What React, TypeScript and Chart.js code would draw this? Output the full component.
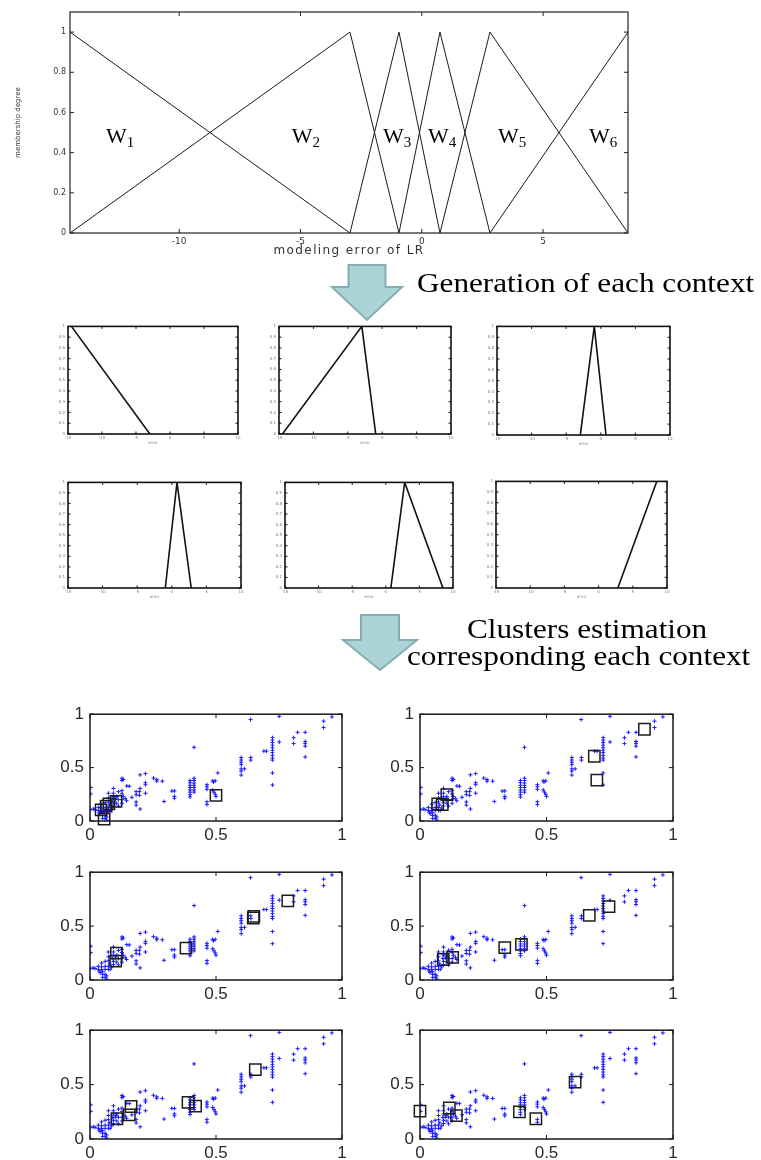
import React, { useEffect, useRef } from "react";
import { Chart, registerables } from "chart.js";
Chart.register(...registerables);

// ---------------- data ----------------
// peaks of the triangular membership functions W1..W6 (modeling error of LR)
const mfPeaks = [-14.5, -2.96, -0.94, 0.75, 2.81, 8.5];
const mfSubs = ["1", "2", "3", "4", "5", "6"];
const mfLabelX = [-13.02, -5.36, -1.6, 0.26, 3.14, 6.89];
const mfLabelY = [0.45, 0.45, 0.45, 0.45, 0.45, 0.45];
const topXTicks = [-10, -5, 0, 5];
const topYTicks = [0, 0.2, 0.4, 0.6, 0.8, 1];
const smallXTicks = [-15, -10, -5, 0, 5, 10];
const smallYTicks = [0, 0.1, 0.2, 0.3, 0.4, 0.5, 0.6, 0.7, 0.8, 0.9, 1];
const scatterTicks = [0, 0.5, 1];

const scatterPoints: [number, number][] = [
  [1.0, 1.0], [0.96, 0.975], [0.927, 0.935], [0.927, 0.875], [0.751, 0.98], [0.637, 0.95],
  [0.854, 0.83], [0.824, 0.83], [0.808, 0.78], [0.808, 0.725], [0.854, 0.745], [0.854, 0.725],
  [0.854, 0.7], [0.854, 0.6], [0.751, 0.74],
  [0.724, 0.78], [0.724, 0.757], [0.724, 0.734], [0.724, 0.71], [0.724, 0.686], [0.724, 0.663],
  [0.724, 0.64], [0.724, 0.615], [0.724, 0.59], [0.724, 0.57], [0.724, 0.45], [0.724, 0.337],
  [0.7, 0.654], [0.69, 0.654], [0.638, 0.595], [0.638, 0.57],
  [0.6, 0.595], [0.6, 0.571], [0.6, 0.55], [0.6, 0.527], [0.6, 0.488], [0.6, 0.467], [0.6, 0.43],
  [0.613, 0.488], [0.507, 0.45],
  [0.487, 0.376], [0.497, 0.376], [0.49, 0.365], [0.487, 0.29], [0.492, 0.27], [0.497, 0.25], [0.5, 0.23],
  [0.464, 0.34], [0.464, 0.32], [0.464, 0.296], [0.464, 0.18], [0.464, 0.154],
  [0.413, 0.69],
  [0.397, 0.379], [0.397, 0.358], [0.397, 0.334], [0.397, 0.314], [0.397, 0.29], [0.397, 0.27], [0.397, 0.246], [0.397, 0.225],
  [0.413, 0.4], [0.413, 0.379], [0.413, 0.355], [0.413, 0.334], [0.413, 0.314], [0.413, 0.29], [0.413, 0.27],
  [0.335, 0.281], [0.335, 0.231], [0.335, 0.213], [0.325, 0.281],
  [0.294, 0.183],
  [0.252, 0.402], [0.265, 0.388], [0.265, 0.373], [0.287, 0.373],
  [0.22, 0.444], [0.22, 0.358], [0.22, 0.34], [0.22, 0.26],
  [0.199, 0.432], [0.199, 0.305], [0.196, 0.275], [0.196, 0.24], [0.199, 0.112],
  [0.183, 0.275], [0.183, 0.246], [0.183, 0.178], [0.183, 0.148],
  [0.166, 0.222], [0.156, 0.325], [0.146, 0.328],
  [0.127, 0.4], [0.127, 0.38], [0.132, 0.39],
  [0.127, 0.284], [0.127, 0.254], [0.132, 0.23], [0.127, 0.2], [0.127, 0.166], [0.14, 0.21], [0.145, 0.19],
  [0.113, 0.275], [0.106, 0.23], [0.113, 0.2], [0.106, 0.166], [0.113, 0.14],
  [0.093, 0.305], [0.093, 0.26], [0.093, 0.23], [0.093, 0.172], [0.093, 0.142], [0.09, 0.2],
  [0.073, 0.26], [0.073, 0.216], [0.073, 0.178], [0.073, 0.127], [0.073, 0.098], [0.078, 0.15],
  [0.06, 0.172], [0.06, 0.127], [0.06, 0.098], [0.06, 0.053], [0.06, 0.024],
  [0.066, 0.038], [0.066, 0.009], [0.05, 0.024], [0.05, 0.053], [0.05, 0.077], [0.04, 0.068],
  [0.046, 0.157], [0.046, 0.121], [0.046, 0.098],
  [0.033, 0.127], [0.033, 0.098], [0.037, 0.083],
  [0.02, 0.107], [0.013, 0.112], [0.003, 0.314], [0.003, 0.254], [0.003, 0.107],
  [0.08, 0.098], [0.086, 0.121], [0.1, 0.2], [0.104, 0.215],
];

const centers1: [number, number][] = [[0.5, 0.24], [0.044, 0.104], [0.064, 0.139], [0.103, 0.183], [0.056, 0.018], [0.075, 0.16]];
const centers2: [number, number][] = [[0.887, 0.859], [0.689, 0.606], [0.699, 0.382], [0.106, 0.247], [0.088, 0.153], [0.07, 0.159]];
const centers3: [number, number][] = [[0.785, 0.734], [0.65, 0.59], [0.648, 0.575], [0.381, 0.295], [0.105, 0.249], [0.102, 0.175]];
const centers4: [number, number][] = [[0.747, 0.68], [0.669, 0.6], [0.335, 0.3], [0.401, 0.33], [0.092, 0.19], [0.129, 0.21]];
const centers5: [number, number][] = [[0.656, 0.637], [0.389, 0.337], [0.419, 0.302], [0.163, 0.299], [0.156, 0.221], [0.107, 0.186]];
const centers6: [number, number][] = [[0.0, 0.256], [0.116, 0.285], [0.144, 0.215], [0.393, 0.25], [0.458, 0.186], [0.613, 0.523]];

// ---------------- helpers ----------------
type Box = { l: number; t: number; r: number; b: number };
type Pad = { L: number; T: number; R: number; B: number };

function mfPoints(i: number) {
  const pts: { x: number; y: number }[] = [];
  if (i > 0) pts.push({ x: mfPeaks[i - 1], y: 0 });
  pts.push({ x: mfPeaks[i], y: 1 });
  if (i < mfPeaks.length - 1) pts.push({ x: mfPeaks[i + 1], y: 0 });
  return pts;
}

const boxPlugin = {
  id: "mbox",
  afterDatasetsDraw(chart: any, _a: any, opts: any) {
    const { ctx, chartArea: a, scales } = chart;
    const xs = scales.x, ys = scales.y;
    const len = opts.tickLen;
    ctx.save();
    ctx.strokeStyle = opts.color;
    ctx.lineWidth = opts.tickWidth;
    ctx.beginPath();
    xs.ticks.forEach((t: any) => {
      const p = xs.getPixelForValue(t.value);
      ctx.moveTo(p, a.bottom); ctx.lineTo(p, a.bottom - len);
      ctx.moveTo(p, a.top); ctx.lineTo(p, a.top + len);
    });
    ys.ticks.forEach((t: any) => {
      const p = ys.getPixelForValue(t.value);
      ctx.moveTo(a.left, p); ctx.lineTo(a.left + len, p);
      ctx.moveTo(a.right, p); ctx.lineTo(a.right - len, p);
    });
    ctx.stroke();
    ctx.lineWidth = opts.boxWidth;
    ctx.strokeRect(a.left, a.top, a.right - a.left, a.bottom - a.top);
    ctx.restore();
  },
};

const wLabelPlugin = {
  id: "wlabels",
  afterDatasetsDraw(chart: any) {
    const { ctx, scales } = chart;
    const x = scales.x, y = scales.y;
    ctx.save();
    ctx.fillStyle = "#000";
    ctx.textAlign = "left";
    ctx.textBaseline = "alphabetic";
    mfSubs.forEach((s, i) => {
      const px = x.getPixelForValue(mfLabelX[i]);
      const py = y.getPixelForValue(mfLabelY[i]);
      ctx.font = '22px "Liberation Serif"';
      ctx.fillText("W", px, py);
      const w = ctx.measureText("W").width;
      ctx.font = '15px "Liberation Serif"';
      ctx.fillText(s, px + w, py + 4);
    });
    ctx.restore();
  },
};

const xTitlePlugin = {
  id: "xtitle",
  afterDraw(chart: any, _a: any, opts: any) {
    if (!opts || !opts.text) return;
    const { ctx, chartArea: a } = chart;
    ctx.save();
    ctx.font = opts.font;
    ctx.fillStyle = opts.color;
    ctx.textAlign = "center";
    ctx.textBaseline = "middle";
    (ctx as any).letterSpacing = opts.spacing;
    ctx.fillText(opts.text, (a.left + a.right) / 2, a.bottom + opts.offset);
    ctx.restore();
  },
};

function axis(pad: Pad, horizontal: boolean, min: number, max: number, ticks: number[], tickOpts: any, title?: any) {
  return {
    type: "linear",
    min, max,
    bounds: "data",
    afterBuildTicks: (s: any) => { s.ticks = ticks.map((v) => ({ value: v })); },
    afterFit: (s: any) => { if (horizontal) s.height = pad.B; else s.width = pad.L; },
    grid: { display: false, drawTicks: false },
    border: { display: false },
    ticks: { ...tickOpts, callback: (v: any) => String(v) },
    title: title || { display: false },
  };
}

function ChartCanvas({ plot, pad, build }: { plot: Box; pad: Pad; build: (pad: Pad) => any }) {
  const ref = useRef<HTMLCanvasElement>(null);
  const w = plot.r - plot.l + pad.L + pad.R;
  const h = plot.b - plot.t + pad.T + pad.B;
  useEffect(() => {
    const chart = new Chart(ref.current as HTMLCanvasElement, build(pad));
    return () => chart.destroy();
  }, []);
  return (
    <canvas
      ref={ref}
      width={w}
      height={h}
      style={{ position: "absolute", left: plot.l - pad.L, top: plot.t - pad.T, width: w, height: h }}
    />
  );
}

function baseOptions(pad: Pad, x: any, y: any, plugins: any) {
  return {
    responsive: false,
    animation: false,
    devicePixelRatio: 1,
    events: [],
    layout: { padding: { left: 0, top: pad.T, right: pad.R, bottom: 0 }, autoPadding: false },
    plugins: { legend: { display: false }, tooltip: { enabled: false }, ...plugins },
    scales: { x, y },
  };
}

// ---------------- chart builders ----------------
function buildTop(pad: Pad) {
  return {
    type: "line",
    data: {
      datasets: mfPeaks.map((_, i) => ({
        data: mfPoints(i),
        borderColor: "#1a1a1a",
        borderWidth: 1,
        pointRadius: 0,
        fill: false,
        tension: 0,
      })),
    },
    options: baseOptions(
      pad,
      axis(pad, true, -14.5, 8.5, topXTicks, { font: { family: "DejaVu Sans", size: 9 }, color: "#333", padding: 3 }),
      axis(pad, false, 0, 1.1, topYTicks, { font: { family: "DejaVu Sans", size: 8 }, color: "#333", padding: 4 }, {
        display: true,
        text: "membership degree",
        font: { family: "DejaVu Sans", size: 7 },
        color: "#333",
        padding: { top: 14, bottom: 0 },
      }),
      {
        mbox: { color: "#222", tickLen: 4, tickWidth: 1, boxWidth: 1.2 },
        xtitle: { text: "modeling error of LR", font: '12px "DejaVu Sans"', color: "#333", spacing: "1.4px", offset: 18 },
      }
    ),
    plugins: [boxPlugin, wLabelPlugin, xTitlePlugin],
  };
}

function buildSmall(i: number) {
  return (pad: Pad) => ({
    type: "line",
    data: {
      datasets: [{ data: mfPoints(i), borderColor: "#111", borderWidth: 1.6, pointRadius: 0, fill: false, tension: 0 }],
    },
    options: baseOptions(
      pad,
      axis(pad, true, -15, 10, smallXTicks, { font: { family: "DejaVu Sans", size: 4 }, color: "#777", padding: 2 }, {
        display: true,
        text: "error",
        font: { family: "DejaVu Sans", size: 4 },
        color: "#888",
        padding: { top: 0, bottom: 3 },
      }),
      axis(pad, false, 0, 1, smallYTicks, { font: { family: "DejaVu Sans", size: 4 }, color: "#777", padding: 3 }),
      { mbox: { color: "#111", tickLen: 2.5, tickWidth: 1, boxWidth: 1.6 } }
    ),
    plugins: [boxPlugin],
  });
}

function buildScatter(centers: [number, number][]) {
  return (pad: Pad) => ({
    type: "scatter",
    data: {
      datasets: [
        {
          data: centers.map(([x, y]) => ({ x, y })),
          pointStyle: "rect",
          pointRadius: 8,
          borderWidth: 1.5,
          borderColor: "#1c1c1c",
          backgroundColor: "rgba(0,0,0,0)",
          clip: false,
        },
        {
          data: scatterPoints.map(([x, y]) => ({ x, y })),
          pointStyle: "cross",
          pointRadius: 2,
          borderWidth: 1,
          borderColor: "#1a1aff",
          backgroundColor: "#1a1aff",
        },
      ],
    },
    options: baseOptions(
      pad,
      axis(pad, true, 0, 1, scatterTicks, { font: { family: "Liberation Sans", size: 17 }, color: "#2a2a2a", padding: 4, maxRotation: 0 }),
      axis(pad, false, 0, 1, scatterTicks, { font: { family: "Liberation Sans", size: 17 }, color: "#2a2a2a", padding: 6 }),
      { mbox: { color: "#1a1a1a", tickLen: 4, tickWidth: 1, boxWidth: 1.5 } }
    ),
    plugins: [boxPlugin],
  });
}

// ---------------- layout ----------------
const topPlot: Box = { l: 70, t: 12, r: 628, b: 233 };
const topPad: Pad = { L: 70, T: 12, R: 72, B: 29 };

const smallPad: Pad = { L: 14, T: 4, R: 6, B: 14 };
const smallPlots: Box[] = [
  { l: 68, t: 325, r: 238, b: 434 },
  { l: 279, t: 325, r: 451, b: 434 },
  { l: 497, t: 325, r: 670, b: 435 },
  { l: 68, t: 481, r: 241, b: 588 },
  { l: 285, t: 481, r: 453, b: 588 },
  { l: 496, t: 480, r: 667, b: 588 },
];

const scatterPad: Pad = { L: 40, T: 10, R: 14, B: 26 };
const scatterPlots: Box[] = [
  { l: 90, t: 708, r: 342, b: 821 },
  { l: 420, t: 708, r: 673, b: 821 },
  { l: 90, t: 866, r: 342, b: 980 },
  { l: 420, t: 866, r: 673, b: 980 },
  { l: 90, t: 1024, r: 342, b: 1139 },
  { l: 420, t: 1024, r: 673, b: 1139 },
];
const scatterCenters = [centers1, centers2, centers3, centers4, centers5, centers6];

function Arrow({ cx, top, neck, tip, body, head }: { cx: number; top: number; neck: number; tip: number; body: number; head: number }) {
  const pts = [
    [cx - body, top], [cx + body, top], [cx + body, neck], [cx + head, neck],
    [cx, tip], [cx - head, neck], [cx - body, neck],
  ].map((p) => p.join(",")).join(" ");
  return <polygon points={pts} fill="#acd3d6" stroke="#86adb1" strokeWidth={2} strokeLinejoin="miter" />;
}

const serif: React.CSSProperties = {
  position: "absolute",
  fontFamily: '"Liberation Serif", serif',
  fontSize: 28,
  lineHeight: "28px",
  whiteSpace: "nowrap",
  color: "#000",
  transform: "scaleX(1.115)",
  transformOrigin: "0 0",
};

export default function App() {
  return (
    <div style={{ position: "absolute", left: 0, top: 0, width: 761, height: 1160, background: "#fff", overflow: "hidden" }}>
      <ChartCanvas plot={topPlot} pad={topPad} build={buildTop} />
      {smallPlots.map((p, i) => (
        <ChartCanvas key={"s" + i} plot={p} pad={smallPad} build={buildSmall(i)} />
      ))}
      {scatterPlots.map((p, i) => (
        <ChartCanvas key={"c" + i} plot={p} pad={scatterPad} build={buildScatter(scatterCenters[i])} />
      ))}
      <svg width={761} height={1160} style={{ position: "absolute", left: 0, top: 0, pointerEvents: "none" }}>
        <Arrow cx={367} top={265} neck={287} tip={320} body={18.5} head={35} />
        <Arrow cx={380} top={615} neck={640} tip={670} body={19} head={37} />
      </svg>
      <div style={{ ...serif, left: 417, top: 292 - 23.4 }}>Generation of each context</div>
      <div style={{ ...serif, left: 467, top: 638 - 23.4 }}>Clusters estimation</div>
      <div style={{ ...serif, left: 407, top: 665 - 23.4 }}>corresponding each context</div>
    </div>
  );
}
